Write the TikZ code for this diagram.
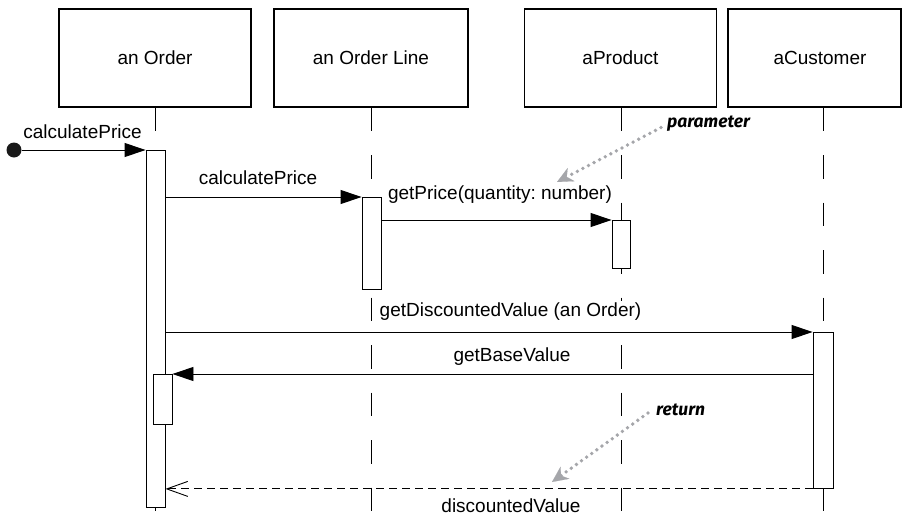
\documentclass[tikz,border=0pt]{standalone}
\usepackage{fontspec}
\setmainfont{Liberation Sans}
\newfontfamily\annfont{Fira Sans}
\usetikzlibrary{arrows.meta}
\definecolor{ptr}{RGB}{165,166,170}
\frenchspacing
\begin{document}
\begin{tikzpicture}[x=1pt,y=-1pt,
  obj/.style={draw, line width=1.1pt, minimum height=98pt, inner sep=0pt, font=\fontsize{19}{22}\selectfont},
  lifeline/.style={line width=0.9pt, dash pattern=on 23.5pt off 24pt},
  act/.style={draw, fill=white, line width=0.9pt, inner sep=0pt, anchor=north},
  msg/.style={line width=0.9pt, -{Triangle[length=21pt,width=14pt]}},
  ret/.style={line width=0.9pt, dash pattern=on 8pt off 5pt, -{Straight Barb[length=21pt,width=15pt,line width=0.9pt]}},
  lbl/.style={font=\fontsize{19}{22}\selectfont, fill=white, inner sep=2pt},
  note/.style={font=\annfont\bfseries\itshape\fontsize{17.5}{20}\selectfont, inner sep=1pt, anchor=west},
  pointer/.style={draw=ptr, line width=3.8pt, line cap=round, dash pattern=on 0pt off 6.3pt,
     -{Stealth[length=16pt,width=15pt,inset=5pt,line width=0.1pt,fill=ptr,color=ptr]}},
  startdot/.style={circle, fill=black!90, inner sep=0pt, minimum size=15pt}
]
\useasboundingbox (0,0) rectangle (902,517);

% objects
\node[obj, minimum width=192pt] (o1) at (155,58) {an Order};
\node[obj, minimum width=194pt] (o2) at (371,58) {an Order Line};
\node[obj, minimum width=192pt] (o3) at (620.5,58) {aProduct};
\node[obj, minimum width=173pt] (o4) at (814.5,58) {};
\node[font=\fontsize{19}{22}\selectfont] (o4t) at (820,58) {aCustomer};

% lifeline ends
\coordinate (e1) at (155,517);
\coordinate (e2) at (371,517);
\coordinate (e3) at (621,517);
\coordinate (e4) at (823,517);

\draw[lifeline] (o1.south -| e1) -- (e1);
\draw[lifeline] (o2.south -| e2) -- (e2);
\draw[lifeline] (o3.south -| e3) -- (e3);
\draw[lifeline] (o4.south -| e4) -- (e4);

% activations
\node[act, minimum width=19pt, minimum height=357pt] (a1) at (155.5,150) {};
\node[act, minimum width=19pt, minimum height=92pt] (a2) at (371.5,197) {};
\node[act, minimum width=18pt, minimum height=48pt] (a3) at (621,220) {};
\node[act, minimum width=20pt, minimum height=156pt] (a4) at (823,332) {};
\node[act, minimum width=19pt, minimum height=50pt] (a5) at (162.5,374) {};

% messages
\node[startdot] (s) at (14,150) {};
\draw[msg] (s) -- (a1.north west);
\node[lbl] (l1) at (82.5,132) {calculatePrice};

\draw[msg] (a1.east |- a2.north) -- (a2.north west);
\node[lbl] (l2) at (258,178) {calculatePrice};

\draw[msg] (a2.east |- a3.north) -- (a3.north west);
\node[lbl] (l3) at (500,195) {getPrice(quantity: number)};

\draw[msg] (a1.east |- a4.north) -- (a4.north west);
\node[lbl] (l4) at (510.5,312) {getDiscountedValue (an Order)};

\draw[msg] (a4.west |- a5.north) -- (a5.north east);
\node[lbl] (l5) at (512,357) {getBaseValue};

\draw[ret] (a4.south west) -- (a1.east |- a4.south);
\node[lbl] (l6) at (511,506) {discountedValue};

% annotations
\node[note] (n1) at (666,124) {parameter};
\coordinate (t1) at (557,182);
\draw[pointer] (661,127.5) -- (t1);

\node[note] (n2) at (655,410) {return};
\coordinate (t2) at (552,482);
\draw[pointer] (648,413) -- (t2);
\end{tikzpicture}
\end{document}
